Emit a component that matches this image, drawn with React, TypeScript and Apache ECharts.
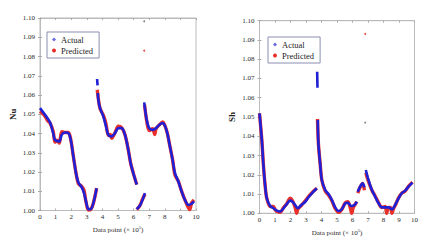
import React, { useEffect, useRef } from "react";
import * as echarts from "echarts";

// ---------- Nu (left panel) ----------
const nuActualA = [[0,1.0532],[0.32,1.0497],[0.64,1.0458],[0.85,1.040],[0.96,1.0367],[1.24,1.0359],[1.39,1.0393],[1.6,1.0405],[1.82,1.0402],[1.97,1.0367],[2.14,1.028],[2.31,1.0194],[2.46,1.0146],[2.67,1.0121],[2.82,1.009],[2.95,1.0047],[3.1,1.0007],[3.25,1.0007],[3.42,1.0038],[3.63,1.0116]];
const nuActualB = [[3.66,1.0683],[3.69,1.0650]];
const nuActualC = [[3.71,1.061],[3.74,1.0575],[3.85,1.0532],[4.06,1.0489],[4.23,1.0437],[4.38,1.0393],[4.59,1.0385],[4.81,1.0402],[5.02,1.0428],[5.24,1.0428],[5.45,1.0393],[5.66,1.0315],[5.81,1.0246],[5.98,1.0194],[6.2,1.0135]];
const nuActualD = [[6.2,1.0007],[6.4,1.0025],[6.55,1.005],[6.73,1.009]];
const nuActualE = [[6.68,1.0562],[6.84,1.0471],[7.0,1.0428],[7.22,1.0419],[7.44,1.0428],[7.65,1.0445],[7.86,1.0454],[8.01,1.044],[8.16,1.0402],[8.33,1.0333],[8.5,1.0263],[8.65,1.0194],[8.87,1.0151],[9.08,1.0099],[9.29,1.0055],[9.51,1.0029],[9.72,1.0035],[9.87,1.0047]];
const nuOutlierActual = [[6.68,1.0983]];

const nuPredA = [[0,1.0515],[0.15,1.0505],[0.32,1.049],[0.5,1.0465],[0.64,1.0455],[0.85,1.041],[0.96,1.0355],[1.1,1.0365],[1.24,1.035],[1.39,1.041],[1.6,1.0405],[1.82,1.0405],[1.97,1.037],[2.14,1.028],[2.31,1.0194],[2.46,1.014],[2.67,1.0125],[2.82,1.0105],[2.95,1.0045],[3.1,1.0002],[3.25,1.0005],[3.42,1.0038],[3.63,1.0116]];
const nuPredC = [[3.67,1.0627],[3.74,1.058],[3.85,1.053],[4.06,1.0495],[4.23,1.045],[4.38,1.039],[4.5,1.0395],[4.59,1.0375],[4.81,1.0405],[5.02,1.0438],[5.24,1.043],[5.45,1.0393],[5.66,1.0315],[5.81,1.0246],[5.98,1.0194],[6.2,1.0135]];
const nuPredD = [[6.2,1.0005],[6.4,1.0025],[6.55,1.0055],[6.73,1.0085]];
const nuPredE = [[6.7,1.055],[6.84,1.0465],[7.0,1.0415],[7.22,1.0425],[7.35,1.0395],[7.44,1.0425],[7.65,1.0445],[7.86,1.046],[8.01,1.044],[8.16,1.0402],[8.33,1.0333],[8.5,1.0263],[8.65,1.0185],[8.87,1.0151],[9.08,1.0099],[9.29,1.0055],[9.51,1.0015],[9.6,1.0005],[9.72,1.004],[9.87,1.0055]];
const nuOutlierPred = [[6.68,1.083]];

// ---------- Sh (right panel) ----------
const shActualA = [[0,1.0519],[0.15,1.038],[0.26,1.0242],[0.37,1.0138],[0.47,1.0078],[0.69,1.0038],[0.9,1.0026],[1.12,1.0014],[1.33,1.0009],[1.55,1.0026],[1.76,1.0048],[1.98,1.0066],[2.13,1.006],[2.3,1.0043],[2.47,1.0026],[2.69,1.0043],[2.95,1.006],[3.2,1.0087],[3.48,1.0112],[3.7,1.013]];
const shActualB = [[3.72,1.0735],[3.74,1.0652]];
const shActualC = [[3.76,1.0484],[3.8,1.0363],[3.91,1.026],[4.02,1.0173],[4.24,1.0121],[4.45,1.01],[4.67,1.0069],[4.88,1.0031],[5.1,1.0012],[5.31,1.0021],[5.53,1.0052],[5.7,1.0055],[5.91,1.0038],[6.13,1.0043],[6.28,1.006]];
const shActualD = [[6.34,1.0112],[6.49,1.0138],[6.65,1.0156],[6.77,1.0135]];
const shActualE = [[6.86,1.0225],[7.03,1.0173],[7.25,1.0121],[7.46,1.0087],[7.68,1.0052],[7.89,1.0031],[8.11,1.0031],[8.32,1.0031],[8.54,1.0021],[8.75,1.0043],[8.97,1.0078],[9.18,1.0104],[9.4,1.0118],[9.61,1.0138],[9.87,1.0159]];
const shOutlierActual = [[6.82,1.0471]];

const shPredA = [[0,1.0519],[0.15,1.038],[0.26,1.0242],[0.37,1.0138],[0.47,1.0078],[0.69,1.0035],[0.9,1.0035],[1.0,1.002],[1.12,1.001],[1.33,1.0005],[1.55,1.003],[1.76,1.005],[1.98,1.0078],[2.13,1.0065],[2.3,1.003],[2.4,1.0],[2.47,1.002],[2.69,1.004],[2.95,1.0065],[3.2,1.009],[3.48,1.0115],[3.7,1.013]];
const shPredC = [[3.74,1.049],[3.8,1.0363],[3.91,1.026],[4.02,1.0173],[4.24,1.0115],[4.45,1.0095],[4.67,1.0065],[4.88,1.0025],[5.1,1.0005],[5.31,1.002],[5.53,1.0055],[5.7,1.006],[5.85,1.003],[5.95,1.0],[6.05,1.003],[6.28,1.006]];
const shPredD = [[6.34,1.0105],[6.49,1.0135],[6.65,1.0155],[6.77,1.012]];
const shPredE = [[6.86,1.021],[7.03,1.0165],[7.25,1.012],[7.46,1.009],[7.68,1.0055],[7.89,1.003],[8.11,1.0035],[8.2,1.0],[8.32,1.003],[8.45,1.003],[8.54,1.0],[8.65,1.0025],[8.75,1.004],[8.97,1.008],[9.18,1.0105],[9.4,1.0115],[9.61,1.014],[9.87,1.0162]];
const shOutlierPred = [[6.82,1.0931]];

const xMin = 0, xMax = 10, xStep = 1;
const yMin = 1.0, yMax = 1.1, yStep = 0.01;
const panelNames = ["Nu", "Sh"];
const xName = "Data point (× 10{sup|5})";

const BLUE = "#1f1fd6";
const RED = "#e8302a";
const FONT = "Liberation Serif";
const TXT = "#2a2a2a";

function joinSegs(segs: number[][][]) {
  const out: any[] = [];
  segs.forEach((s, i) => {
    if (i > 0) out.push([s[0][0], "-"]);
    s.forEach((p) => out.push(p));
  });
  return out;
}

export default function App() {
  const ref = useRef<HTMLDivElement>(null);
  useEffect(() => {
    if (!ref.current) return;
    const chart = echarts.init(ref.current, undefined, { renderer: "svg" });
    const grids = [
      { left: 40, top: 18, width: 156, height: 192.5 },
      { left: 259.5, top: 20.7, width: 155, height: 192.6 },
    ];
    const tick = { show: true, inside: true, length: 2, lineStyle: { color: "#aaa" } };
    const axLine = { show: true, lineStyle: { color: "#bbb", width: 1 } };
    const xAxis: any[] = [];
    const yAxis: any[] = [];
    grids.forEach((_, i) => {
      xAxis.push({
        type: "value", gridIndex: i, min: xMin, max: xMax, interval: xStep, position: "bottom",
        name: xName, nameLocation: "middle", nameGap: 13,
        nameTextStyle: { fontFamily: FONT, fontSize: 7, color: TXT,
          rich: { sup: { fontFamily: FONT, fontSize: 4.5, verticalAlign: "top", padding: [0, 0, 4, 0], color: TXT } } },
        axisLine: axLine, axisTick: tick,
        axisLabel: { fontFamily: FONT, fontSize: 7, color: TXT, margin: 3 },
        splitLine: { show: false },
      });
      xAxis.push({
        type: "value", gridIndex: i, min: xMin, max: xMax, interval: xStep, position: "top",
        axisLine: axLine, axisTick: tick, axisLabel: { show: false }, splitLine: { show: false },
      });
      yAxis.push({
        type: "value", gridIndex: i, min: yMin, max: yMax, interval: yStep, position: "left",
        name: panelNames[i], nameLocation: "middle", nameGap: 23,
        nameTextStyle: { fontFamily: FONT, fontSize: 9, color: "#222", fontWeight: "bold" },
        axisLine: axLine, axisTick: tick,
        axisLabel: { fontFamily: FONT, fontSize: 7, color: TXT, margin: 5,
          formatter: (v: number) => v.toFixed(2) },
        splitLine: { show: false },
      });
      yAxis.push({
        type: "value", gridIndex: i, min: yMin, max: yMax, interval: yStep, position: "right",
        axisLine: axLine, axisTick: tick, axisLabel: { show: false }, splitLine: { show: false },
      });
    });
    const lineSeries = (name: string, idx: number, data: any[], color: string, width: number) => ({
      type: "line", name, xAxisIndex: idx * 2, yAxisIndex: idx * 2, data,
      showSymbol: false, smooth: 0.3, connectNulls: false,
      lineStyle: { color, width }, itemStyle: { color },
      emphasis: { disabled: true }, silent: true,
    });
    const dotSeries = (name: string, idx: number, data: any[], color: string, size: number) => ({
      type: "scatter", name, xAxisIndex: idx * 2, yAxisIndex: idx * 2, data,
      symbolSize: size, itemStyle: { color }, silent: true,
    });
    const legendCommon = {
      orient: "vertical", borderColor: "#8a8fb0", borderWidth: 1, padding: [3, 6, 3, 5],
      itemGap: 2, itemWidth: 4, itemHeight: 4,
      textStyle: { fontFamily: FONT, fontSize: 8.5, color: "#222" },
      selectedMode: false,
      data: [
        { name: "Actual", icon: "diamond", itemStyle: { color: "#6a6ae0", borderWidth: 0 } },
        { name: "Predicted", icon: "circle", itemStyle: { color: RED, borderWidth: 0 } },
      ],
    };
    chart.setOption({
      animation: false,
      backgroundColor: "#fff",
      grid: grids.map((g) => ({ ...g, show: true, borderColor: "#bbb", borderWidth: 1, backgroundColor: "transparent" })),
      xAxis, yAxis,
      legend: [
        { ...legendCommon, left: 47, top: 32 },
        { ...legendCommon, left: 268, top: 37 },
      ],
      series: [
        lineSeries("Predicted", 0, joinSegs([nuPredA, nuPredC, nuPredD, nuPredE]), RED, 3.4),
        lineSeries("Actual", 0, joinSegs([nuActualA, nuActualB, nuActualC, nuActualD, nuActualE]), BLUE, 2.6),
        dotSeries("Predicted", 0, nuOutlierPred, RED, 2),
        dotSeries("Actual", 0, nuOutlierActual, "#777", 2),
        lineSeries("Predicted", 1, joinSegs([shPredA, shPredC, shPredD, shPredE]), RED, 3.4),
        lineSeries("Actual", 1, joinSegs([shActualA, shActualB, shActualC, shActualD, shActualE]), BLUE, 2.6),
        dotSeries("Predicted", 1, shOutlierPred, RED, 2),
        dotSeries("Actual", 1, shOutlierActual, "#777", 2),
      ],
    });
    return () => chart.dispose();
  }, []);
  return <div ref={ref} style={{ position: "absolute", left: 0, top: 0, width: 431, height: 252 }} />;
}
